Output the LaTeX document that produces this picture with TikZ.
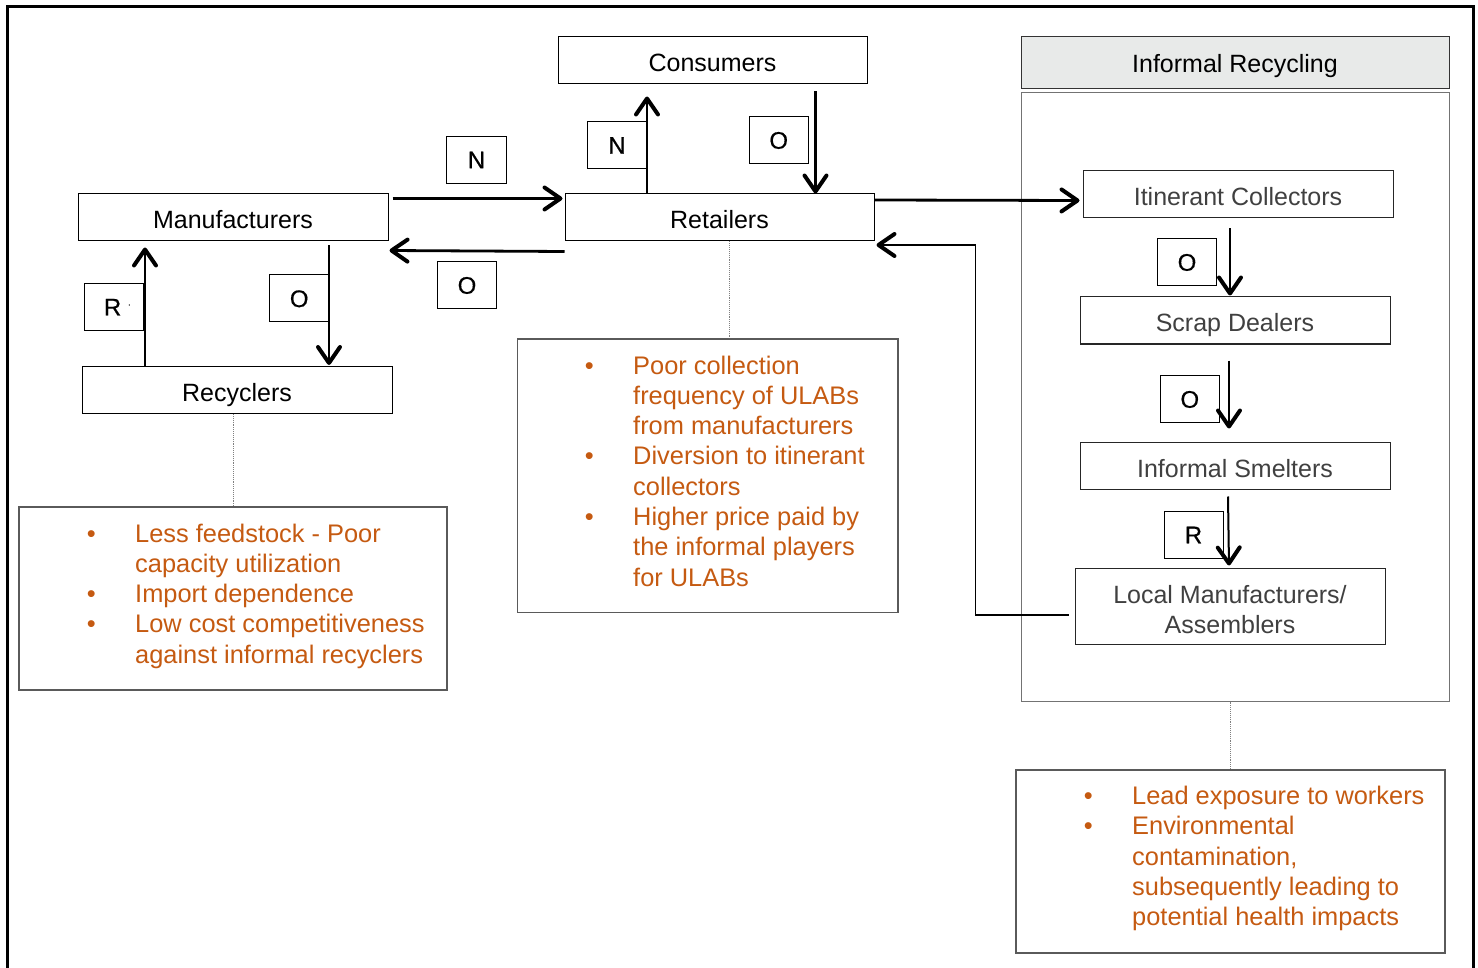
\documentclass[tikz,border=0pt]{standalone}
\usepackage{fontspec}
\setmainfont{Liberation Sans}
\newfontfamily\labfont[FakeBold=0.6]{Liberation Sans}
\usetikzlibrary{arrows.meta}
\definecolor{org}{RGB}{197,90,17}
\definecolor{hdr}{RGB}{232,234,233}
\definecolor{dgray}{RGB}{64,64,64}
\definecolor{bgray}{RGB}{90,90,90}
\newcommand\bul{\leavevmode\llap{\textbullet\hspace{39.5pt}}}
\begin{document}
\begin{tikzpicture}[x=1pt,y=-1pt,
  box/.style={draw=black, line width=1pt, inner sep=0pt, minimum height=47pt,
    text height=23pt, text depth=0pt, font=\fontsize{25}{30}\selectfont},
  ibox/.style={box, draw=black!85, text=dgray},
  lab/.style={draw=black, line width=0.8pt, inner sep=0pt, minimum width=59pt,
    minimum height=47pt, text height=17.5pt, text depth=0pt, font=\labfont\fontsize{24}{28}\selectfont},
  obox/.style={draw=bgray, line width=1.2pt, inner sep=0pt},
  otext/.style={anchor=base west, inner sep=0pt, text=org, font=\fontsize{25.4}{30.3}\selectfont},
  tip/.tip={Straight Barb[length=16pt,width=22pt,line width=4pt 0,round]},
  arr/.style={line width=2.8pt, -tip},
  iarr/.style={line width=2pt, -tip},
  thinl/.style={line width=1.1pt},
  dotl/.style={gray, line width=0.9pt, densely dotted}
]
\useasboundingbox (0,0) rectangle (1478,968);
\clip (0,0) rectangle (1478,968);
% outer frame
\draw[line width=3pt] (7,990) -- (7,7) -- (1473,7) -- (1473,990);

% main boxes
\node[box, minimum width=309pt] (cons) at (712.5,60.5) {Consumers};
\node[box, minimum width=310pt] (manuf) at (233,217.5) {Manufacturers};
\node[box, minimum width=309pt] (retail) at (719.5,217.5) {Retailers};
\node[box, minimum width=310pt] (recyc) at (237,390) {Recyclers};

% informal recycling
\node[box, fill=hdr, minimum width=428pt, minimum height=52pt, text height=20pt, draw=black!80] (hdr) at (1235,63) {Informal Recycling};
\node[draw=black!55, line width=1pt, minimum width=428pt, minimum height=608pt, inner sep=0pt] (inf) at (1235,397) {};
\node[ibox, minimum width=310pt] (itin) at (1238,194.5) {Itinerant Collectors};
\node[ibox, minimum width=310pt] (scrap) at (1235,320.5) {Scrap Dealers};
\node[ibox, minimum width=310pt] (smelt) at (1235,465.5) {Informal Smelters};
\node[ibox, minimum width=310pt, minimum height=76pt] (local) at (1230,606) {};
\node[inner sep=0pt, text=dgray, align=center, font=\fontsize{25}{30}\selectfont] (localt) at ([yshift=-4pt]local.center) {Local Manufacturers/\\Assemblers};

% flow labels
\node[lab, minimum width=60pt] (n1) at (476.5,159.5) {N};
\node[lab] (o1) at (467,285) {O};
\node[lab] (n2) at (617,145) {N};
\node[lab] (o2) at (778.7,140) {O};
\node[lab] (r1) at (114.2,306.7) {\hspace{6pt}R\hspace{7pt}\raisebox{10pt}{\footnotesize .}};
\node[lab] (o3) at (299.2,298.3) {O};
\node[lab] (o4) at (1187,262) {O};
\node[lab] (o5) at (1189.8,399) {O};
\node[lab] (r2) at (1193.5,534.5) {R};

% issue boxes
\node[obox, minimum width=428pt, minimum height=183pt] (lbox) at (233,598.5) {};
\node[obox, minimum width=380.5pt, minimum height=273.5pt] (mbox) at (707.75,475.75) {};
\node[obox, minimum width=429pt, minimum height=183pt] (rbox) at (1230.5,861.5) {};

\node[otext] (lt) at (135,542) {\parbox[t]{330pt}{\bul Less feedstock - Poor\\capacity utilization\\\bul Import dependence\\\bul Low cost competitiveness\\against informal recyclers}};
\node[otext] (mt) at (633,374) {\parbox[t]{300pt}{\bul Poor collection\\frequency of ULABs\\from manufacturers\\\bul Diversion to itinerant\\collectors\\\bul Higher price paid by\\the informal players\\for ULABs}};
\node[otext] (rt) at (1132,804.5) {\parbox[t]{330pt}{\bul Lead exposure to workers\\\bul Environmental\\contamination,\\subsequently leading to\\potential health impacts}};

% dotted connectors
\draw[dotl] (lbox.north |- recyc.south) -- (lbox.north);
\draw[dotl] ([xshift=10pt]retail.south) -- ([xshift=10pt]retail.south |- mbox.north);
\draw[dotl] (rbox.north |- inf.south) -- (rbox.north);

% arrows main
\draw[arr] ([xshift=4pt,yshift=-5pt]manuf.north east) -- ([xshift=-2pt,yshift=-5pt]retail.north west);
\draw[arr] ([yshift=-10pt]retail.south west) -- ([xshift=1pt,yshift=-9pt]manuf.south east);
\draw[arr] ([xshift=-72.5pt]retail.north) -- ([xshift=-65.5pt,yshift=-12pt]cons.south);
\draw[arr] ([xshift=103pt,yshift=-7pt]cons.south) -- ([xshift=96pt]retail.north);
\draw[arr] ([yshift=-6.5pt]retail.north east) -- ([xshift=-3pt,yshift=-6pt]itin.west);
\draw[arr] ([xshift=-92pt]recyc.north) -- ([xshift=-88pt,yshift=-6pt]manuf.south);
\draw[arr] ([xshift=96pt,yshift=-4pt]manuf.south) -- ([xshift=92pt,yshift=1pt]recyc.north);

% local manufacturers back to retailers
\path ([xshift=-6pt,yshift=-9pt]local.west) coordinate (la) ++(-93,0) coordinate (lb);
\path ([xshift=2pt,yshift=-3.5pt]retail.south east) coordinate (rtp);
\draw[thinl] (la) -- (lb) -- (lb |- rtp);
\draw[arr] (lb |- rtp) -- (rtp);

% informal chain arrows
\draw[iarr] ([xshift=-8pt,yshift=-10pt]itin.south) -- ([xshift=-5pt,yshift=1pt]scrap.north);
\draw[iarr] ([xshift=-6pt,yshift=-16pt]scrap.south) -- ([xshift=-6pt,yshift=13pt]smelt.north);
\draw[iarr] ([xshift=-7pt,yshift=-7pt]smelt.south) -- ([xshift=-1pt,yshift=2pt]local.north);
\end{tikzpicture}
\end{document}
